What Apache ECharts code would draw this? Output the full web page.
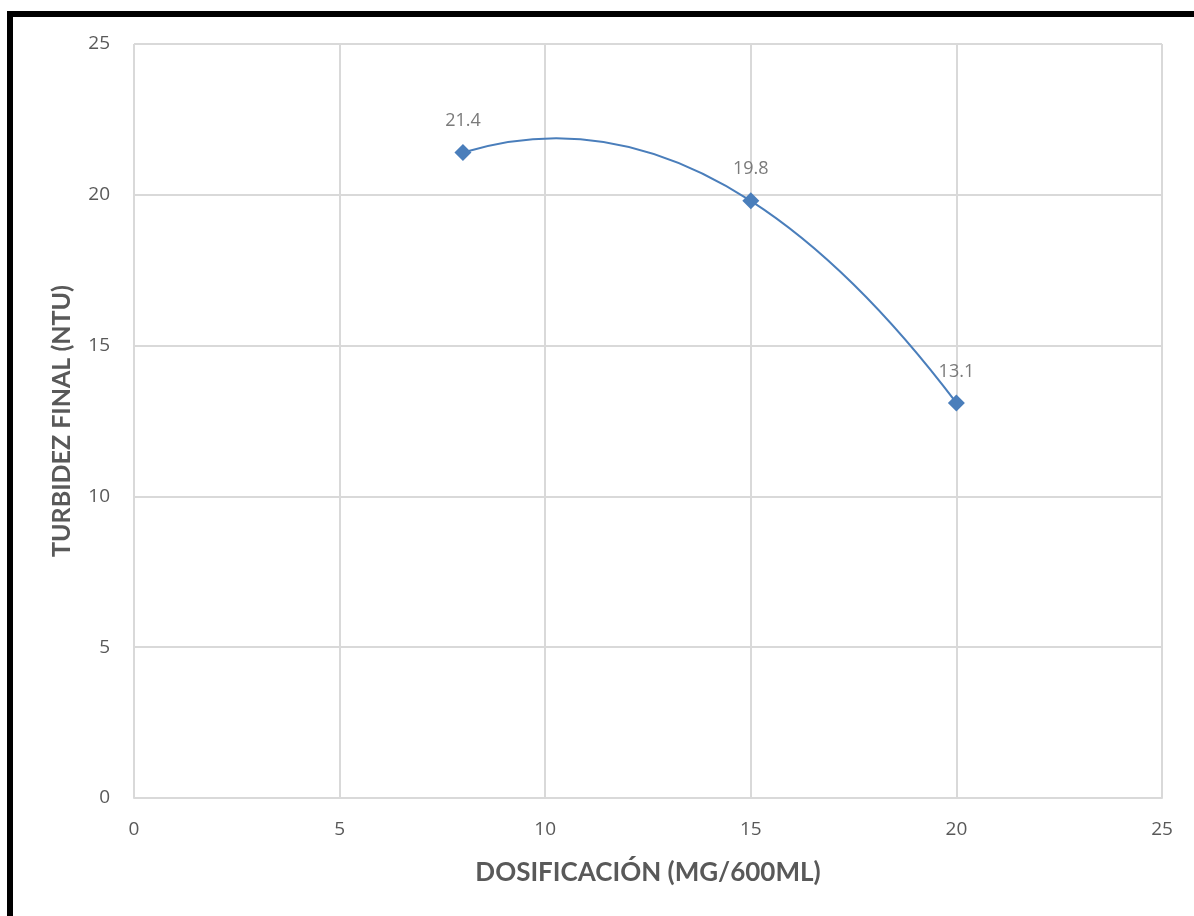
<!DOCTYPE html>
<html>
<head>
<meta charset="utf-8">
<script src="https://cdn.jsdelivr.net/npm/echarts@6/dist/echarts.min.js"></script>
<style>
  html, body { margin: 0; padding: 0; background: #fff; }
  #chart { width: 1194px; height: 916px; }
</style>
</head>
<body>
<div id="chart"></div>
<script>
// Dosage (mg / 600 mL) versus final turbidity (NTU)
const dosificacion = [8, 15, 20];
const turbidez = [21.4, 19.8, 13.1];
const xTicks = [0, 5, 10, 15, 20, 25];
const yTicks = [0, 5, 10, 15, 20, 25];

const xTitle = 'DOSIFICACIÓN (MG/600ML)';
const yTitle = 'TURBIDEZ FINAL (NTU)';

const points = dosificacion.map((x, i) => [x, turbidez[i]]);

// Tangent slopes for a smooth cubic Hermite curve (Bessel tangents:
// slope of the parabola through each point and its neighbours).
function besselSlopes(xs, ys) {
  const n = xs.length;
  const h = [], d = [];
  for (let i = 0; i < n - 1; i++) {
    h[i] = xs[i + 1] - xs[i];
    d[i] = (ys[i + 1] - ys[i]) / h[i];
  }
  const m = new Array(n);
  if (n === 2) { m[0] = m[1] = d[0]; return m; }
  for (let i = 1; i < n - 1; i++) {
    m[i] = (h[i] * d[i - 1] + h[i - 1] * d[i]) / (h[i - 1] + h[i]);
  }
  m[0] = ((2 * h[0] + h[1]) * d[0] - h[0] * d[1]) / (h[0] + h[1]);
  const k = n - 1;
  m[k] = ((2 * h[k - 1] + h[k - 2]) * d[k - 1] - h[k - 1] * d[k - 2]) / (h[k - 1] + h[k - 2]);
  return m;
}

const LINE_COLOR = '#4a7ebb';

// Draws the smoothed connecting line as cubic Bezier segments in axis space.
function renderSmoothLine(params, api) {
  if (params.dataIndex !== 0) return null;
  const xs = dosificacion, ys = turbidez;
  const m = besselSlopes(xs, ys);
  const p0 = api.coord([xs[0], ys[0]]);
  let path = 'M' + p0[0] + ' ' + p0[1];
  for (let i = 0; i < xs.length - 1; i++) {
    const h = xs[i + 1] - xs[i];
    const c1 = api.coord([xs[i] + h / 3, ys[i] + m[i] * h / 3]);
    const c2 = api.coord([xs[i + 1] - h / 3, ys[i + 1] - m[i + 1] * h / 3]);
    const p = api.coord([xs[i + 1], ys[i + 1]]);
    path += ' C' + c1[0] + ' ' + c1[1] + ' ' + c2[0] + ' ' + c2[1] + ' ' + p[0] + ' ' + p[1];
  }
  return {
    type: 'path',
    shape: { pathData: path },
    style: { fill: 'none', stroke: LINE_COLOR, lineWidth: 2 }
  };
}

const chart = echarts.init(document.getElementById('chart'), null, { renderer: 'canvas' });

const TITLE_FONT = 'Lato, "Open Sans", sans-serif';
const TICK_FONT = '"Open Sans", sans-serif';
const GRID = '#d9d9d9';

chart.setOption({
  animation: false,
  backgroundColor: '#ffffff',
  graphic: [
    {
      type: 'rect',
      shape: { x: 10, y: 14, width: 1400, height: 1200 },
      style: { fill: 'none', stroke: '#000', lineWidth: 6 },
      z: 100
    }
  ],
  grid: { left: 134, right: 32, top: 44, bottom: 118 },
  xAxis: {
    type: 'value',
    min: xTicks[0],
    max: xTicks[xTicks.length - 1],
    interval: 5,
    name: xTitle,
    nameLocation: 'middle',
    nameGap: 62,
    nameTextStyle: { fontFamily: TITLE_FONT, fontWeight: 'bold', fontSize: 26, color: '#595959' },
    axisLine: { show: true, lineStyle: { color: GRID, width: 2 } },
    axisTick: { show: false },
    axisLabel: { fontFamily: TICK_FONT, fontSize: 19, color: '#595959', margin: 22 },
    splitLine: { show: true, lineStyle: { color: GRID, width: 2 } }
  },
  yAxis: {
    type: 'value',
    min: yTicks[0],
    max: yTicks[yTicks.length - 1],
    interval: 5,
    name: yTitle,
    nameLocation: 'middle',
    nameGap: 60,
    nameRotate: 90,
    nameTextStyle: { fontFamily: TITLE_FONT, fontWeight: 'bold', fontSize: 25, color: '#595959' },
    axisLine: { show: false },
    axisTick: { show: false },
    axisLabel: { fontFamily: TICK_FONT, fontSize: 19, color: '#595959', margin: 24 },
    splitLine: { show: true, lineStyle: { color: GRID, width: 2 } }
  },
  series: [
    {
      type: 'custom',
      data: points,
      encode: { x: 0, y: 1 },
      renderItem: renderSmoothLine,
      clip: false,
      silent: true,
      z: 2
    },
    {
      type: 'scatter',
      data: points,
      symbol: 'diamond',
      symbolSize: 17,
      itemStyle: { color: LINE_COLOR, opacity: 1 },
      z: 3,
      label: {
        show: true,
        position: 'top',
        distance: 14,
        fontFamily: TICK_FONT,
        fontSize: 18,
        color: '#7a7a7a',
        formatter: p => p.value[1].toFixed(1)
      }
    }
  ]
});
</script>
</body>
</html>
